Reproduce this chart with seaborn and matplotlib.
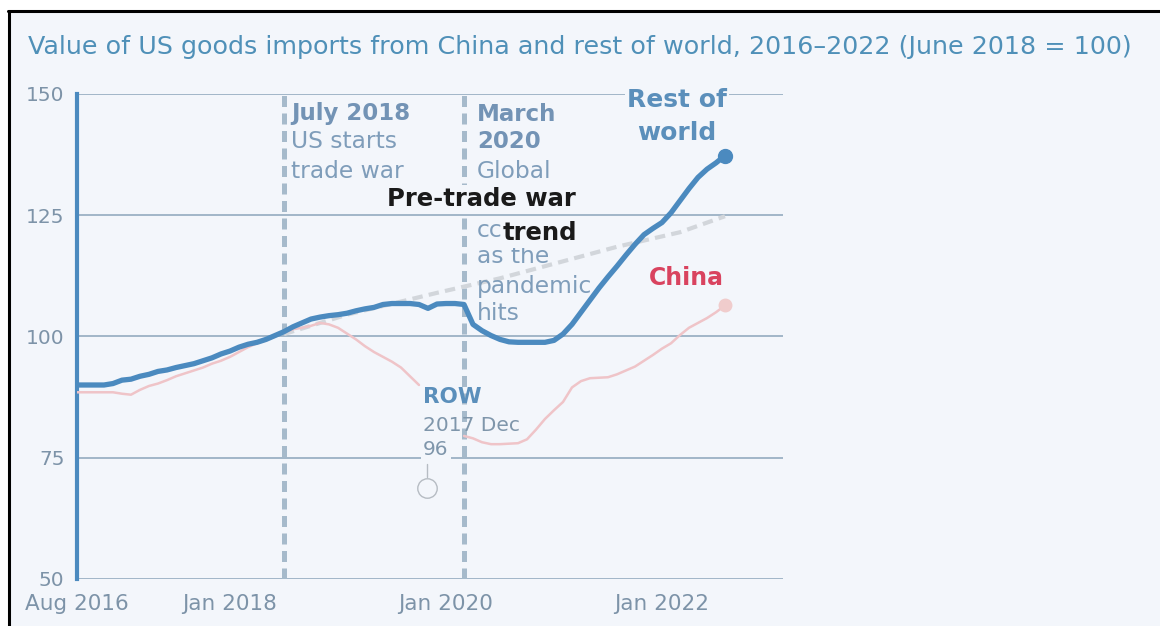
import numpy as np
import pandas as pd
import matplotlib
matplotlib.use("Agg")
import matplotlib.pyplot as plt
from matplotlib.lines import Line2D
import seaborn as sns

# ---------------- data (months since Aug 2016) ----------------
row_months = list(range(0, 73))
row_values = [90, 90, 90, 90, 90.3, 91, 91.2, 91.8, 92.2, 92.8,
              93.1, 93.6, 94.0, 94.4, 95.0, 95.6, 96.4, 97.0, 97.8, 98.4,
              98.8, 99.4, 100.2, 101.0, 102.0, 102.8, 103.6, 104.0, 104.3, 104.5,
              104.8, 105.3, 105.7, 106.0, 106.6, 106.8, 106.8, 106.8, 106.6, 105.8,
              106.7, 106.8, 106.8, 106.6, 102.5, 101.2, 100.2, 99.4, 98.9, 98.8,
              98.8, 98.8, 98.8, 99.2, 100.5, 102.5, 105.0, 107.5, 110.0, 112.3,
              114.5, 116.8, 119.0, 121.0, 122.3, 123.5, 125.5, 128.0, 130.5, 132.8,
              134.5, 135.8, 137.3]

china_months = list(range(0, 73))
china_values = [88.5, 88.5, 88.5, 88.5, 88.5, 88.2, 88.0, 89.0, 89.8, 90.3,
                91.0, 91.8, 92.4, 93.0, 93.6, 94.4, 95.0, 95.8, 96.8, 97.8,
                98.6, 99.2, 100.0, 100.8, 101.5, 101.8, 102.2, 102.8, 102.5, 101.8,
                100.6, 99.4, 98.0, 96.8, 95.8, 94.8, 93.6, 91.8, 90.0, np.nan,
                np.nan, np.nan, np.nan, 79.5, 79.0, 78.2, 77.8, 77.8, 77.9, 78.0,
                78.8, 80.8, 83.0, 84.8, 86.5, 89.5, 90.8, 91.4, 91.5, 91.6,
                92.2, 93.0, 93.8, 95.0, 96.2, 97.5, 98.6, 100.3, 101.8, 102.8,
                103.8, 105.0, 106.4]

trend_months = [23, 30, 40, 47, 53, 60, 67, 72]
trend_values = [100.5, 104.5, 109.0, 112.0, 115.0, 118.5, 121.5, 124.8]

tick_months = [0, 17, 41, 65]
tick_labels = ["Aug 2016", "Jan 2018", "Jan 2020", "Jan 2022"]
y_ticks = [50, 75, 100, 125, 150]

event_months = [23, 43]  # July 2018, March 2020

title = "Value of US goods imports from China and rest of world, 2016\u20132022 (June 2018 = 100)"

# ---------------- style ----------------
BG = "#f3f6fb"
ROW_C = "#4b8abf"
CHINA_LINE = "#efc4c8"
CHINA_TXT = "#d9435f"
TREND_C = "#d2d6db"
GRID_C = "#93abc0"
VLINE_C = "#a6bacb"
ANN_C = "#7f9dba"
ANN_BOLD = "#7393b5"
TICK_C = "#7d93a8"
TITLE_C = "#4f90b8"

sns.set_theme(style="white")
plt.rcParams["font.family"] = ["DejaVu Sans"]

W, H = 1160, 626
fig = plt.figure(figsize=(W / 100, H / 100), dpi=100, facecolor=BG)
ax = fig.add_axes([77 / W, 1 - 579 / H, (783 - 77) / W, (579 - 94) / H])
ax.set_facecolor(BG)

ax.set_xlim(0, (783 - 77) / 9.0)
ax.set_ylim(50, 150)

# gridlines
for yv in y_ticks:
    ax.axhline(yv, color=GRID_C, lw=1.2, zorder=1)

# event dashed lines
for m in event_months:
    ax.axvline(m, color=VLINE_C, lw=3.6, ls=(0, (2.2, 1.3)), zorder=2)

df_row = pd.DataFrame({"month": row_months, "value": row_values})
df_china = pd.DataFrame({"month": china_months, "value": china_values})
df_china["segment"] = df_china["value"].isna().cumsum()
df_china = df_china.dropna()
df_trend = pd.DataFrame({"month": trend_months, "value": trend_values})

sns.lineplot(data=df_trend, x="month", y="value", ax=ax, color=TREND_C,
             lw=3.0, zorder=3, linestyle=(0, (2.5, 1.5)))
sns.lineplot(data=df_china, x="month", y="value", units="segment", estimator=None,
             ax=ax, color=CHINA_LINE, lw=1.8, zorder=4)
sns.lineplot(data=df_row, x="month", y="value", ax=ax, color=ROW_C,
             lw=3.8, zorder=5, solid_capstyle="round")

ax.plot(row_months[-1], row_values[-1], "o", color=ROW_C, ms=10, zorder=6)
ax.plot(china_months[-1], china_values[-1], "o", color="#f0cccc", ms=9, zorder=6)

# axes styling
for s in ["top", "right", "bottom"]:
    ax.spines[s].set_visible(False)
ax.spines["left"].set_color(ROW_C)
ax.spines["left"].set_linewidth(3)
ax.set_xlabel("")
ax.set_ylabel("")
ax.set_yticks(y_ticks)
ax.set_yticklabels([str(v) for v in y_ticks])
ax.set_xticks(tick_months)
ax.set_xticklabels(tick_labels)
ax.tick_params(axis="both", length=0, labelcolor=TICK_C)
ax.tick_params(axis="y", pad=9, labelsize=14.5)
ax.tick_params(axis="x", pad=11, labelsize=15.5)
ax.grid(False)


def px2m(px):
    return (px - 77) / 9.0


def py2v(py):
    return 100 + (336 - py) / 4.85


def txt(px, py, s, color, size=16.8, weight="normal", bg=False, ha="left", z=7):
    kw = {}
    if bg:
        kw["bbox"] = dict(facecolor=BG, edgecolor="none", pad=1.5)
    ax.text(px2m(px), py2v(py), s, color=color, fontsize=size, fontweight=weight,
            ha=ha, va="baseline", zorder=z, **kw)


# July 2018 annotation
txt(291, 120, "July 2018", ANN_BOLD, size=16.5, weight="bold")
txt(291, 148, "US starts", ANN_C)
txt(291, 178, "trade war", ANN_C)

# March 2020 annotation
txt(477, 121, "March", ANN_BOLD, size=16.5, weight="bold")
txt(477, 148, "2020", ANN_BOLD, size=16.5, weight="bold")
txt(477, 178, "Global", ANN_C)
txt(477, 237, "cc", ANN_C)
txt(477, 263, "as the", ANN_C)
txt(477, 292, "pandemic", ANN_C)
txt(477, 320, "hits", ANN_C)

# Pre-trade war trend
txt(387, 206, "Pre-trade war", "#1a1a1a", size=17.5, weight="bold", bg=True, z=8)
txt(503, 240, "trend", "#1a1a1a", size=17.5, weight="bold", bg=True, z=8)

# Series labels
txt(677, 107, "Rest of", "#5b8fbb", size=18, weight="bold", bg=True, ha="center", z=8)
txt(677, 140, "world", "#5b8fbb", size=18, weight="bold", ha="center", z=8)
txt(686, 285, "China", CHINA_TXT, size=17, weight="bold", ha="center", z=8)

# ROW tooltip artefact
txt(423, 403, "ROW", "#5b8fbb", size=15.5, weight="bold")
txt(423, 431, "2017 Dec", "#7f96ab", size=14.5)
txt(423, 455, "96", "#7f96ab", size=14.5, bg=True)
ax.plot([px2m(427), px2m(427)], [py2v(463), py2v(477)], color="#b6bcc3", lw=1, zorder=7)
ax.plot(px2m(427), py2v(487), "o", ms=14, mfc="none", mec="#b6bcc3", mew=1, zorder=7)

# title
fig.text(28 / W, 1 - 47 / H, title, color=TITLE_C, fontsize=18.3, ha="left", va="center")

# scanned frame border
fig.add_artist(Line2D([8 / W, 1], [1 - 11 / H, 1 - 11 / H], color="black", lw=2.2,
                      transform=fig.transFigure))
fig.add_artist(Line2D([9 / W, 9 / W], [0, 1 - 11 / H], color="black", lw=2.2,
                      transform=fig.transFigure))
fig.patches.append(plt.Rectangle((0, 1 - 10 / H), 1, 10 / H, transform=fig.transFigure,
                                 facecolor="white", edgecolor="none", zorder=-1))
fig.patches.append(plt.Rectangle((0, 0), 8 / W, 1, transform=fig.transFigure,
                                 facecolor="white", edgecolor="none", zorder=-1))

fig.savefig("out.png", dpi=100, facecolor=BG)
